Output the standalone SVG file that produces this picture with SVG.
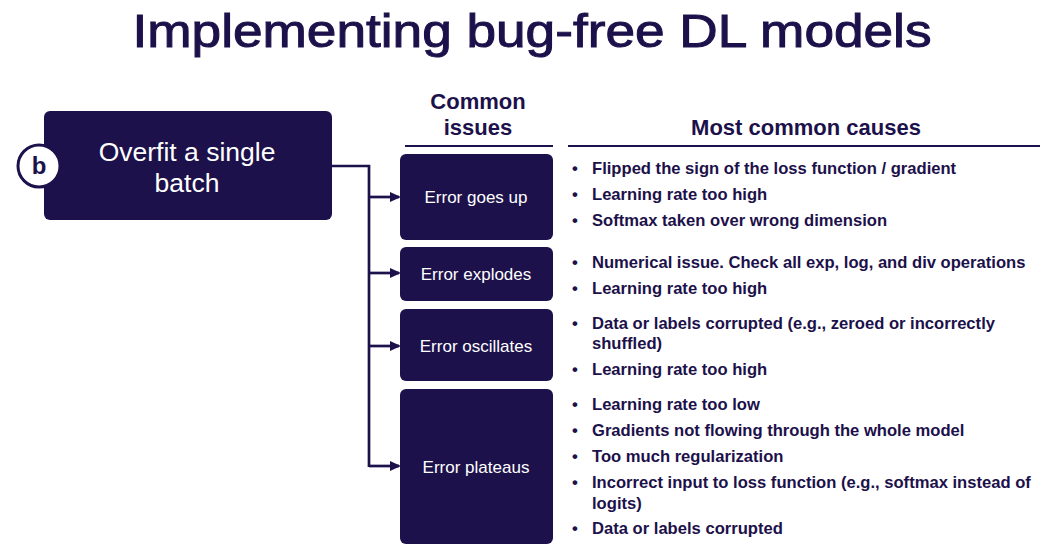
<svg xmlns="http://www.w3.org/2000/svg" width="1064" height="553" viewBox="0 0 1064 553">
<style>
.box{fill:#1c114a;}
.title{font-family:"Liberation Sans",Arial,sans-serif;font-size:47px;fill:#1c114a;stroke:#1c114a;stroke-width:1;}
.hdr{font-family:"Liberation Sans",Arial,sans-serif;font-size:22px;font-weight:bold;fill:#1c114a;}
.main{font-family:"Liberation Sans",Arial,sans-serif;font-size:26.5px;fill:#ffffff;}
.iss{font-family:"Liberation Sans",Arial,sans-serif;font-size:17px;fill:#ffffff;}
.cause{font-family:"Liberation Sans",Arial,sans-serif;font-size:16.6px;font-weight:bold;fill:#1c114a;}
.rule{stroke:#1c114a;stroke-width:2;}
.conn{fill:none;stroke:#1c114a;stroke-width:2.7;}
</style>
<defs>
<marker id="ah" markerWidth="11" markerHeight="10" refX="9" refY="5" orient="auto" markerUnits="userSpaceOnUse">
<path d="M0,0 L11,5 L0,10 Z" fill="#1c114a"/>
</marker>
</defs>
<rect width="1064" height="553" fill="#ffffff"/>
<text class="title" x="532" y="47" text-anchor="middle" textLength="799" lengthAdjust="spacingAndGlyphs">Implementing bug-free DL models</text>

<g id="headers">
<text class="hdr" x="478" y="109" text-anchor="middle">Common</text>
<text class="hdr" x="478" y="135" text-anchor="middle">issues</text>
<line class="rule" x1="405" y1="146" x2="553" y2="146"/>
<text class="hdr" x="806" y="135" text-anchor="middle">Most common causes</text>
<line class="rule" x1="568" y1="146" x2="1040" y2="146"/>
</g>

<g id="connectors">
<polyline class="conn" points="331,166 369,166 369,467"/>
<line class="conn" x1="369" y1="197" x2="399" y2="197" marker-end="url(#ah)"/>
<line class="conn" x1="369" y1="273" x2="399" y2="273" marker-end="url(#ah)"/>
<line class="conn" x1="369" y1="346" x2="399" y2="346" marker-end="url(#ah)"/>
<line class="conn" x1="369" y1="466" x2="399" y2="466" marker-end="url(#ah)"/>
</g>

<g id="node-main">
<rect class="box" x="44" y="111" width="288" height="109" rx="6"/>
<text class="main" x="187" y="161" text-anchor="middle">Overfit a single</text>
<text class="main" x="187" y="192" text-anchor="middle">batch</text>
</g>
<g id="node-b">
<circle cx="39" cy="166" r="21" fill="#ffffff" stroke="#1c114a" stroke-width="3"/>
<text x="39" y="174" text-anchor="middle" font-family="Liberation Sans, Arial, sans-serif" font-size="24" font-weight="bold" fill="#1c114a">b</text>
</g>

<g id="node-up">
<rect class="box" x="400" y="154" width="153" height="86" rx="6"/>
<text class="iss" x="476" y="203" text-anchor="middle">Error goes up</text>
</g>
<g id="node-explodes">
<rect class="box" x="400" y="247" width="153" height="54" rx="6"/>
<text class="iss" x="476" y="280" text-anchor="middle">Error explodes</text>
</g>
<g id="node-oscillates">
<rect class="box" x="400" y="309" width="153" height="72" rx="6"/>
<text class="iss" x="476" y="352" text-anchor="middle">Error oscillates</text>
</g>
<g id="node-plateaus">
<rect class="box" x="400" y="389" width="153" height="155" rx="6"/>
<text class="iss" x="476" y="473" text-anchor="middle">Error plateaus</text>
</g>

<g id="causes" class="cause">
<text x="572" y="174">•</text><text x="592" y="174">Flipped the sign of the loss function / gradient</text>
<text x="572" y="200">•</text><text x="592" y="200">Learning rate too high</text>
<text x="572" y="226">•</text><text x="592" y="226">Softmax taken over wrong dimension</text>
<text x="572" y="268">•</text><text x="592" y="268">Numerical issue. Check all exp, log, and div operations</text>
<text x="572" y="294">•</text><text x="592" y="294">Learning rate too high</text>
<text x="572" y="329">•</text><text x="592" y="329">Data or labels corrupted (e.g., zeroed or incorrectly</text>
<text x="592" y="349">shuffled)</text>
<text x="572" y="375">•</text><text x="592" y="375">Learning rate too high</text>
<text x="572" y="410">•</text><text x="592" y="410">Learning rate too low</text>
<text x="572" y="436">•</text><text x="592" y="436">Gradients not flowing through the whole model</text>
<text x="572" y="462">•</text><text x="592" y="462">Too much regularization</text>
<text x="572" y="488">•</text><text x="592" y="488">Incorrect input to loss function (e.g., softmax instead of</text>
<text x="592" y="509">logits)</text>
<text x="572" y="534">•</text><text x="592" y="534">Data or labels corrupted</text>
</g>
</svg>
